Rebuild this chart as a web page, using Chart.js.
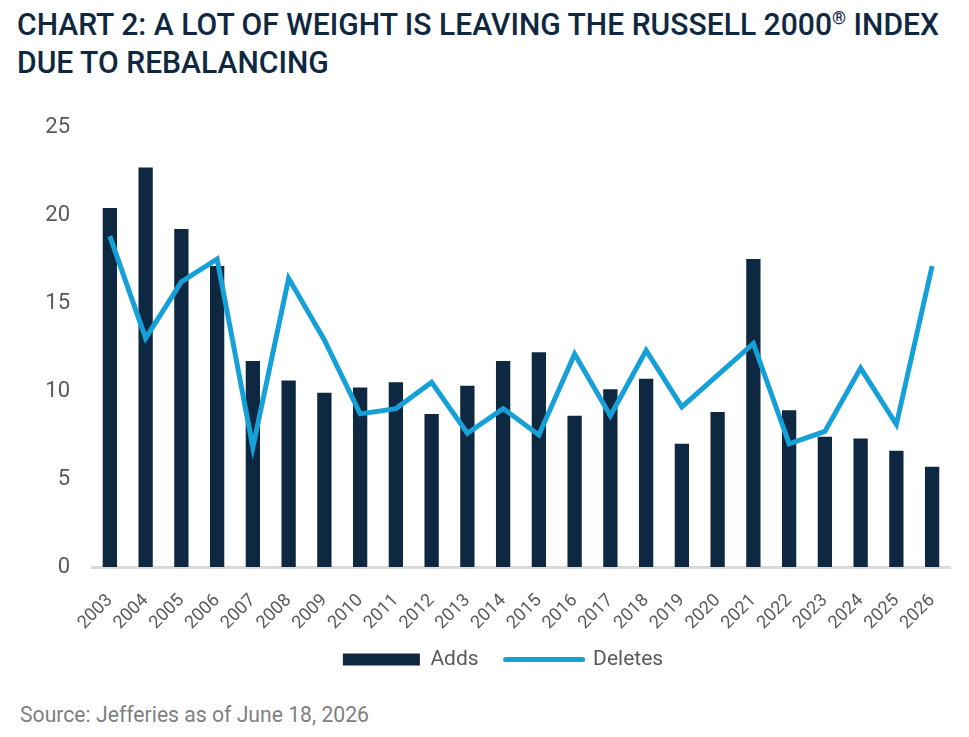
<!DOCTYPE html>
<html>
<head>
<meta charset="utf-8">
<script src="https://cdn.jsdelivr.net/npm/chart.js@4/dist/chart.umd.min.js"></script>
<style>
  html, body { margin: 0; padding: 0; background: #fff; }
  body { width: 969px; height: 737px; position: relative; overflow: hidden; font-family: Roboto, sans-serif; }
  .line { position: absolute; white-space: nowrap; transform-origin: 0 0; }
  .title { left: 17px; color: #0f2841; font-size: 32px; line-height: 38px; font-weight: 500; }
  .title sup { font-size: 19px; vertical-align: 0; position: relative; top: -11px; }
  #t1 { top: 5px; }
  #t2 { top: 43px; }
  #source { left: 20px; top: 704px; color: #7f7f7f; font-size: 22px; line-height: 22px; }
  #chartBox { position: absolute; left: 0; top: 100px; width: 969px; height: 587px; }
</style>
</head>
<body>
<div class="line title" id="t1">CHART 2: A LOT OF WEIGHT IS LEAVING THE RUSSELL 2000<sup>®</sup> INDEX</div>
<div class="line title" id="t2">DUE TO REBALANCING</div>
<div id="chartBox"><canvas id="chart"></canvas></div>
<div class="line" id="source">Source: Jefferies as of June 18, 2026</div>
<script>
// ---------- данные ----------
const YEARS = ['2003','2004','2005','2006','2007','2008','2009','2010','2011','2012','2013','2014',
               '2015','2016','2017','2018','2019','2020','2021','2022','2023','2024','2025','2026'];
const ADDS = [20.4, 22.7, 19.2, 17.1, 11.7, 10.6, 9.9, 10.2, 10.5, 8.7, 10.3, 11.7,
              12.2, 8.6, 10.1, 10.7, 7.0, 8.8, 17.5, 8.9, 7.4, 7.3, 6.6, 5.7];
const DELETES = [18.8, 13.0, 16.2, 17.5, 6.8, 16.4, 12.9, 8.7, 9.0, 10.5, 7.6, 9.0,
                 7.5, 12.1, 8.6, 12.3, 9.1, 10.9, 12.7, 7.0, 7.7, 11.3, 8.1, 17.1];
const Y_TICKS = [0, 5, 10, 15, 20, 25];

const NAVY = '#0f2841';
const BLUE = '#15a0d7';
const GREY = '#595959';
const FONT = 'Roboto, sans-serif';

// узкий шрифт не установлен — сжимаем текст по ширине
function squeeze(id, target) {
  const el = document.getElementById(id);
  const w = el.getBoundingClientRect().width;
  const k = target / w;
  el.style.transform = `scaleX(${k})`;
  return k;
}
const k = squeeze('t1', 922);
document.getElementById('t2').style.transform = `scaleX(${k})`;
squeeze('source', 349);

// легенда в оригинале сдвинута вправо и чуть выше
const legendShift = {
  id: 'legendShift',
  afterLayout(chart) {
    const lg = chart.legend;
    lg.left += 28; lg.right += 28;
    lg.top -= 7; lg.bottom -= 7;
  }
};

const ctx = document.getElementById('chart').getContext('2d');
new Chart(ctx, {
  data: {
    labels: YEARS,
    datasets: [
      { type: 'bar', label: 'Adds', data: ADDS, backgroundColor: NAVY,
        barPercentage: 0.4, categoryPercentage: 1, order: 1 },
      { type: 'line', label: 'Deletes', data: DELETES, borderColor: BLUE, borderWidth: 5,
        pointRadius: 0, tension: 0, fill: false, order: 0 }
    ]
  },
  plugins: [legendShift],
  options: {
    responsive: true,
    maintainAspectRatio: false,
    animation: false,
    layout: { padding: { top: 27, right: 19, left: 0, bottom: 0 } },
    plugins: {
      tooltip: { enabled: false },
      legend: {
        position: 'bottom',
        labels: {
          color: GREY,
          font: { family: FONT, size: 21 },
          usePointStyle: true,
          pointStyleWidth: 77,
          boxHeight: 12,
          padding: 27,
          generateLabels: chart => chart.data.datasets.map((ds, i) => ({
            text: ds.label,
            datasetIndex: i,
            fillStyle: ds.type === 'bar' ? NAVY : BLUE,
            strokeStyle: ds.type === 'bar' ? NAVY : BLUE,
            lineWidth: ds.type === 'bar' ? 0 : 5,
            lineCap: 'round',
            pointStyle: ds.type === 'bar' ? 'rect' : 'line',
            fontColor: GREY,
            hidden: false
          }))
        }
      }
    },
    scales: {
      x: {
        grid: { display: false },
        border: { display: true, color: '#d9d9d9', width: 3 },
        ticks: { color: GREY, font: { family: FONT, size: 18 }, minRotation: 45, maxRotation: 45, padding: 15 },
        afterFit: s => { s.height = 62; }
      },
      y: {
        min: 0, max: 25,
        grid: { display: false, drawTicks: false },
        border: { display: false },
        afterBuildTicks: s => { s.ticks = Y_TICKS.map(v => ({ value: v })); },
        ticks: { color: GREY, font: { family: FONT, size: 22 }, padding: 22 },
        afterFit: s => { s.width = 92; s.paddingTop = 0; s.paddingBottom = 0; }
      }
    }
  }
});
</script>
</body>
</html>
